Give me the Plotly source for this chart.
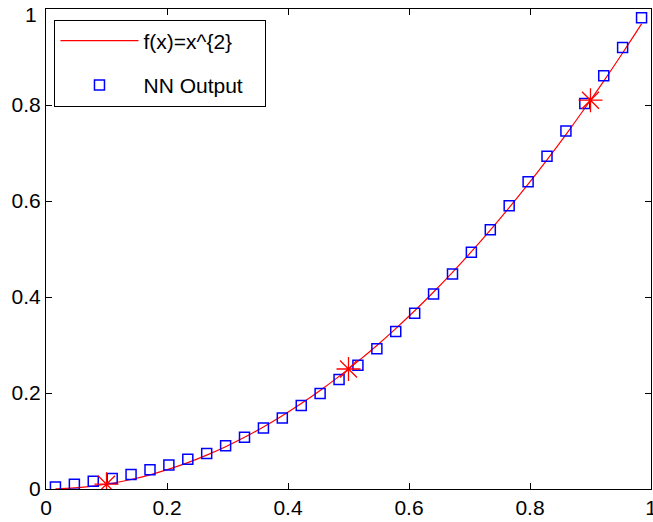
import plotly.graph_objects as go

# Sample grid shared by the target curve and the network output
x_grid = [0.0156, 0.0469, 0.0781, 0.1094, 0.1406, 0.1719, 0.2031, 0.2344,
          0.2656, 0.2969, 0.3281, 0.3594, 0.3906, 0.4219, 0.4531, 0.4844,
          0.5156, 0.5469, 0.5781, 0.6094, 0.6406, 0.6719, 0.7031, 0.7344,
          0.7656, 0.7969, 0.8281, 0.8594, 0.8906, 0.9219, 0.9531, 0.9844]

# Target function f(x) = x^2 on the grid
f_target = [0.0002, 0.0022, 0.0061, 0.0120, 0.0198, 0.0295, 0.0413, 0.0549,
            0.0706, 0.0881, 0.1077, 0.1292, 0.1526, 0.1780, 0.2053, 0.2346,
            0.2659, 0.2991, 0.3342, 0.3713, 0.4104, 0.4514, 0.4944, 0.5393,
            0.5862, 0.6350, 0.6858, 0.7385, 0.7932, 0.8499, 0.9084, 0.9690]

# Network prediction on the same grid
nn_output = [0.004, 0.010, 0.016, 0.022, 0.030, 0.040, 0.050, 0.062,
             0.074, 0.090, 0.108, 0.127, 0.148, 0.174, 0.199, 0.228,
             0.258, 0.292, 0.328, 0.366, 0.406, 0.448, 0.493, 0.540,
             0.590, 0.640, 0.693, 0.746, 0.803, 0.861, 0.920, 0.982]

# Training points
train_x = [0.1, 0.5, 0.9]
train_y = [0.01, 0.25, 0.81]

tick_vals = [0, 0.2, 0.4, 0.6, 0.8, 1]
x_tick_text = ["0", "0.2", "0.4", "0.6", "0.8", "1"]
# top y label is placed separately so it stays inside the page
y_tick_text = ["0", "0.2", "0.4", "0.6", "0.8", ""]
y_top_label = "1"

FONT = "Liberation Sans, Arial, sans-serif"
PAD = "&nbsp;&nbsp;&nbsp;"

fig = go.Figure()

fig.add_trace(go.Scatter(
    x=x_grid, y=f_target, mode="lines", name="f(x)=x^{2}" + PAD,
    line=dict(color="#ff0000", width=1.2, shape="spline"),
    legendgroup="a",
))
fig.add_trace(go.Scatter(
    x=x_grid, y=nn_output, mode="markers", name="NN Output" + PAD,
    marker=dict(symbol="square-open", size=10, color="#0000ff",
                line=dict(width=1.5, color="#0000ff")),
    legendgroup="b",
))
fig.add_trace(go.Scatter(
    x=train_x, y=train_y, mode="markers", showlegend=False,
    marker=dict(symbol="asterisk-open", size=20, color="#ff0000",
                line=dict(width=1.3, color="#ff0000")),
))

axis_common = dict(
    range=[0, 1.00001], tickvals=tick_vals,
    showgrid=False, zeroline=False, showline=True, mirror="ticks",
    linecolor="black", linewidth=1, ticks="inside", ticklen=6,
    tickwidth=1, tickcolor="black", ticklabeloverflow="allow",
    automargin=False,
    tickfont=dict(family=FONT, size=21, color="black"),
)

fig.update_xaxes(ticktext=x_tick_text, **axis_common)
fig.update_yaxes(ticktext=y_tick_text, **axis_common)

fig.add_annotation(
    x=0, xref="paper", y=tick_vals[-1], yref="y", text=y_top_label,
    showarrow=False, xanchor="right", yanchor="middle",
    xshift=-7, yshift=-5,
    font=dict(family=FONT, size=21, color="black"),
)

fig.update_layout(
    width=653, height=522,
    margin=dict(l=46, r=2, t=9, b=33),
    paper_bgcolor="white", plot_bgcolor="white",
    font=dict(family=FONT, size=21, color="black"),
    legend=dict(
        x=0.014, y=0.978, xanchor="left", yanchor="top",
        bgcolor="white", bordercolor="black", borderwidth=1,
        font=dict(family=FONT, size=21, color="black"),
        itemwidth=78, tracegroupgap=14, traceorder="grouped",
    ),
)

fig.write_html("out.html")
